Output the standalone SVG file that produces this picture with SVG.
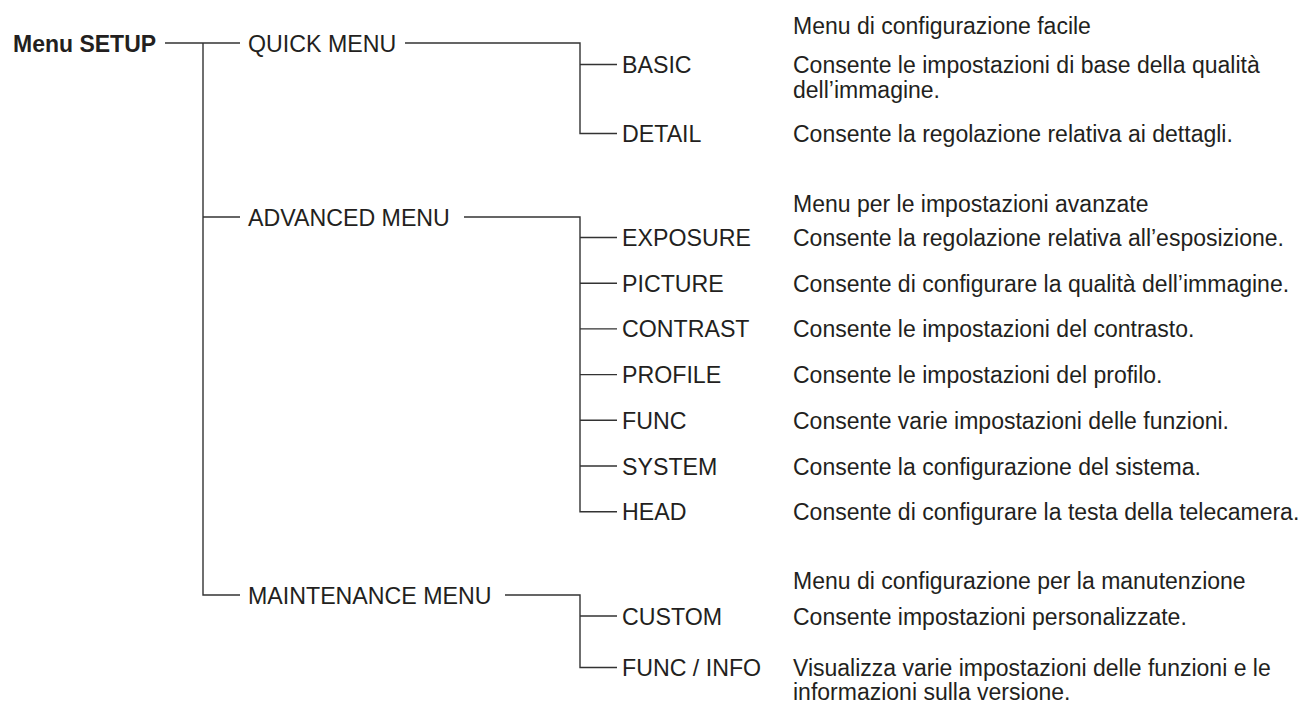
<svg xmlns="http://www.w3.org/2000/svg" width="1303" height="704" viewBox="0 0 1303 704">
<style>
text{font-family:"Liberation Sans",Arial,sans-serif;fill:#231f20}
.root{font-size:23px;font-weight:bold}
.lbl{font-size:23.2px}
.desc{font-size:23px}
.ln{stroke:#333;stroke-width:1.4;fill:none}
</style>
<rect width="1303" height="704" fill="#fff"/>
<g id="connectors" class="ln">
<path d="M165 43H240M203 43V595H240"/>
<path d="M203 217H240"/>
<path d="M405 43H580V133.5H617M580 64.5H617"/>
<path d="M464 217H580V511.7H617M580 237.5H617M580 283.2H617M580 328.9H617M580 374.6H617M580 420.3H617M580 466H617"/>
<path d="M505 595H580V667.5H617M580 616H617"/>
</g>
<g id="n-setup"><text class="root" x="13" y="52">Menu SETUP</text></g>
<g id="n-quick"><text class="lbl" x="248" y="51.5">QUICK MENU</text><text class="desc" x="793" y="34">Menu di configurazione facile</text></g>
<g id="n-basic"><text class="lbl" x="622" y="73">BASIC</text><text class="desc" x="793" y="73">Consente le impostazioni di base della qualità</text><text class="desc" x="793" y="97.5">dell’immagine.</text></g>
<g id="n-detail"><text class="lbl" x="622" y="142">DETAIL</text><text class="desc" x="793" y="142">Consente la regolazione relativa ai dettagli.</text></g>
<g id="n-advanced"><text class="lbl" x="248" y="225.5">ADVANCED MENU</text><text class="desc" x="793" y="212">Menu per le impostazioni avanzate</text></g>
<g id="n-exposure"><text class="lbl" x="622" y="246">EXPOSURE</text><text class="desc" x="793" y="246">Consente la regolazione relativa all’esposizione.</text></g>
<g id="n-picture"><text class="lbl" x="622" y="291.7">PICTURE</text><text class="desc" x="793" y="291.7">Consente di configurare la qualità dell’immagine.</text></g>
<g id="n-contrast"><text class="lbl" x="622" y="337.4">CONTRAST</text><text class="desc" x="793" y="337.4">Consente le impostazioni del contrasto.</text></g>
<g id="n-profile"><text class="lbl" x="622" y="383.1">PROFILE</text><text class="desc" x="793" y="383.1">Consente le impostazioni del profilo.</text></g>
<g id="n-func"><text class="lbl" x="622" y="428.8">FUNC</text><text class="desc" x="793" y="428.8">Consente varie impostazioni delle funzioni.</text></g>
<g id="n-system"><text class="lbl" x="622" y="474.5">SYSTEM</text><text class="desc" x="793" y="474.5">Consente la configurazione del sistema.</text></g>
<g id="n-head"><text class="lbl" x="622" y="520.2">HEAD</text><text class="desc" x="793" y="520.2">Consente di configurare la testa della telecamera.</text></g>
<g id="n-maintenance"><text class="lbl" x="248" y="603.5">MAINTENANCE MENU</text><text class="desc" x="793" y="589">Menu di configurazione per la manutenzione</text></g>
<g id="n-custom"><text class="lbl" x="622" y="624.5">CUSTOM</text><text class="desc" x="793" y="624.5">Consente impostazioni personalizzate.</text></g>
<g id="n-funcinfo"><text class="lbl" x="622" y="676">FUNC / INFO</text><text class="desc" x="793" y="676">Visualizza varie impostazioni delle funzioni e le</text><text class="desc" x="793" y="699.5">informazioni sulla versione.</text></g>
</svg>
